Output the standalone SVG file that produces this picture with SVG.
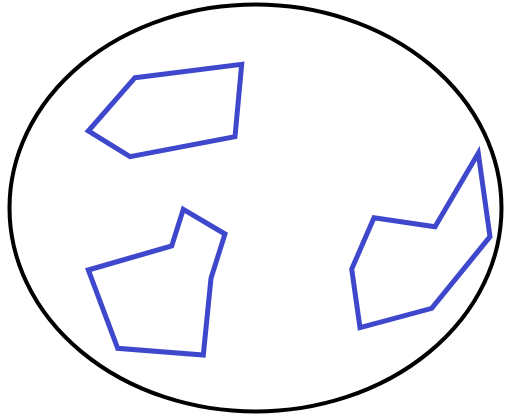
<svg xmlns="http://www.w3.org/2000/svg" width="505" height="416" viewBox="0 0 505 416">
<style>
.shape{fill:none;stroke:#3f48cc;stroke-width:5;stroke-linejoin:miter}
.outline{fill:none;stroke:#000;stroke-width:4}
</style>
<rect width="505" height="416" fill="#fff"/>
<g id="outer"><ellipse class="outline" cx="255.5" cy="208" rx="246" ry="203.5"/></g>
<g id="shape1"><polygon class="shape" points="135,77.7 241.7,64.3 235,136.7 130,156.7 88.3,131"/></g>
<g id="shape2"><polygon class="shape" points="183.3,209.3 225,234 211,278.3 203.3,355 117.7,348.3 88.3,270 171.7,246"/></g>
<g id="shape3"><polygon class="shape" points="478.3,153.3 490,236.7 431.7,308.3 360,327.7 351.7,269 374,217.7 435,226.7"/></g>
</svg>
